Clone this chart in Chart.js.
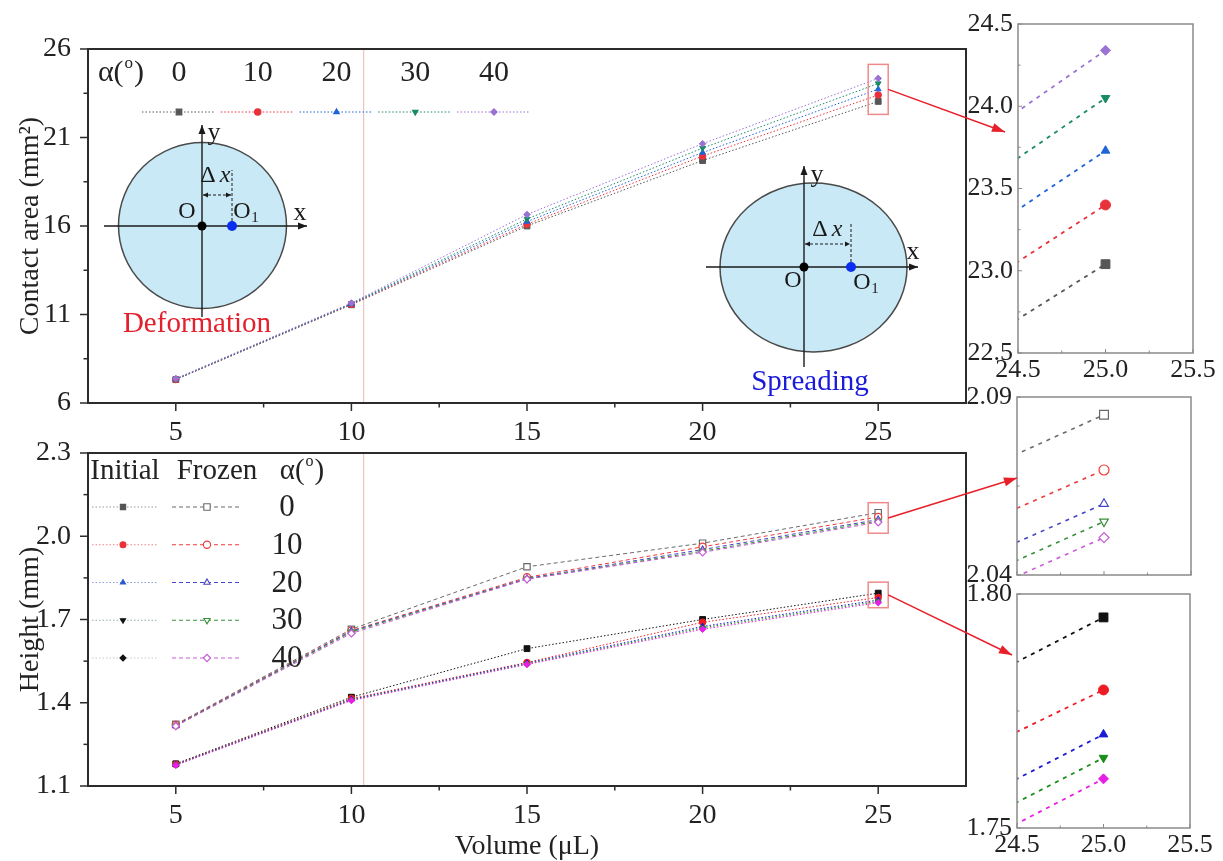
<!DOCTYPE html>
<html lang="en">
<head>
<meta charset="UTF-8" />
<title>Contact area and height vs droplet volume</title>
<script src="https://cdn.jsdelivr.net/npm/chart.js@4.4.1/dist/chart.umd.min.js"></script>
<style>
  body { margin: 0; background: #fff; }
  #wrap { position: relative; width: 1223px; height: 861px; }
  #wrap canvas { position: absolute; left: 0; top: 0; }
</style>
</head>
<body>
<div id="wrap">
  <canvas id="area" width="1223" height="861"></canvas>
  <canvas id="height" width="1223" height="861"></canvas>
  <canvas id="areaZoom" width="1223" height="861"></canvas>
  <canvas id="frozenZoom" width="1223" height="861"></canvas>
  <canvas id="initialZoom" width="1223" height="861"></canvas>
  <canvas id="callouts" width="1223" height="861"></canvas>
</div>
<script>
const W = 1223, H = 861
const serif = '"Liberation Serif", "Times New Roman", serif'
Chart.defaults.font.family = serif
Chart.defaults.color = '#222'

// ---- data ----
const volumes = [5, 10, 15, 20, 25]
const angles = [0, 10, 20, 30, 40]

// contact area (mm²) per tilt angle
const area0 = [7.32, 11.55, 16.0, 19.7, 23.04]
const area10 = [7.33, 11.58, 16.1, 19.95, 23.4]
const area20 = [7.35, 11.6, 16.25, 20.15, 23.73]
const area30 = [7.36, 11.62, 16.4, 20.4, 24.05]
const area40 = [7.38, 11.65, 16.65, 20.65, 24.34]

// height (mm) right after deposition
const initial0 = [1.18, 1.42, 1.595, 1.7, 1.795]
const initial10 = [1.178, 1.415, 1.545, 1.69, 1.7795]
const initial20 = [1.177, 1.412, 1.543, 1.675, 1.77]
const initial30 = [1.176, 1.41, 1.54, 1.67, 1.765]
const initial40 = [1.175, 1.408, 1.538, 1.665, 1.7605]

// height (mm) once frozen
const frozen0 = [1.322, 1.665, 1.89, 1.975, 2.085]
const frozen10 = [1.32, 1.66, 1.852, 1.962, 2.0695]
const frozen20 = [1.318, 1.658, 1.848, 1.952, 2.06]
const frozen30 = [1.317, 1.655, 1.846, 1.946, 2.055]
const frozen40 = [1.316, 1.65, 1.845, 1.942, 2.0505]

const volumeTicks = [5, 10, 15, 20, 25]
const areaTicks = [6, 11, 16, 21, 26]
const heightTicks = [1.1, 1.4, 1.7, 2.0, 2.3]
const zoomVolumeTicks = [24.5, 25.0, 25.5]
const zoomAreaTicks = [22.5, 23.0, 23.5, 24.0, 24.5]
const zoomFrozenTicks = [2.04, 2.09]
const zoomInitialTicks = [1.75, 1.8]
const dividerVolume = 10.35

const areaSeries = [area0, area10, area20, area30, area40]
const initialSeries = [initial0, initial10, initial20, initial30, initial40]
const frozenSeries = [frozen0, frozen10, frozen20, frozen30, frozen40]

// ---- styles ----
const areaColors = ['#565656', '#e8323a', '#1f63d8', '#198a66', '#9a72d6']
const initialColors = ['#111111', '#ee1c24', '#1a1ad6', '#1b8c1b', '#e61ee6']
const frozenColors = ['#6a6a6a', '#ee3a3a', '#4646c8', '#3a8f3a', '#c85ad8']
const initialKeyColors = ['#555555', '#e8323a', '#2a5ad0', '#111111', '#111111']
const initialKeyLines = ['#9a9a9a', '#f08080', '#8aa0e0', '#8fb0a0', '#c8c8c8']
const shapes = ['rect', 'circle', 'triangle', 'triangle', 'rectRot']
const turns = [0, 0, 0, 180, 0]
const dotted = [1.5, 2]
const dashed = [4, 3]

function series(values, i, colors, look) {
  const r = shapes[i] === 'rect' ? look.radius * 1.25 : look.radius
  return {
    data: volumes.map((v, k) => ({ x: v, y: values[k] })),
    borderColor: colors[i],
    borderWidth: look.lineWidth,
    borderDash: look.dash,
    tension: 0,
    pointStyle: shapes[i],
    pointRotation: turns[i],
    pointRadius: r,
    pointBorderWidth: look.open ? 1.2 : 1,
    pointBorderColor: colors[i],
    pointBackgroundColor: look.open ? '#ffffff' : colors[i],
    order: 4 - i,
  }
}

function axis(o) {
  return {
    type: 'linear',
    min: o.min,
    max: o.max,
    afterBuildTicks: s => { s.ticks = o.ticks.map(v => ({ value: v })) },
    afterFit: s => { if (s.isHorizontal()) s.height = o.size; else s.width = o.size },
    grid: { display: false, drawTicks: false },
    border: { display: false },
    ticks: {
      autoSkip: false, maxRotation: 0, padding: o.pad, color: '#222',
      font: { size: o.font }, callback: o.fmt || (v => String(v)),
    },
    title: o.title
      ? { display: true, text: o.title, color: '#222', font: { size: 28, lineHeight: 1 }, padding: o.titlePad }
      : { display: false },
  }
}

function minorValues(scale) {
  const major = scale.ticks.map(t => t.value)
  if (major.length < 2) return []
  const half = (major[1] - major[0]) / 2
  const eps = (scale.max - scale.min) * 1e-6
  const out = []
  for (let k = -1; k < major.length; k++) {
    const v = major[0] + (2 * k + 1) * half
    if (v > scale.min + eps && v < scale.max - eps) out.push(v)
  }
  return out
}

// frame, tick marks and the thin red divider
const framePlugin = {
  id: 'frame',
  beforeDatasetsDraw(chart, args, o) {
    if (o.divider == null) return
    const { ctx, chartArea: a, scales: { x } } = chart
    const px = x.getPixelForValue(o.divider)
    ctx.save()
    ctx.strokeStyle = 'rgba(226,120,120,0.55)'
    ctx.lineWidth = 1
    ctx.beginPath(); ctx.moveTo(px, a.top); ctx.lineTo(px, a.bottom); ctx.stroke()
    ctx.restore()
  },
  afterDraw(chart, args, o) {
    const { ctx, chartArea: a, scales: { x, y } } = chart
    const dir = o.inward ? -1 : 1
    ctx.save()
    ctx.strokeStyle = o.color
    ctx.lineWidth = o.tickWidth
    const tick = (scale, v, len) => {
      const p = scale.getPixelForValue(v)
      ctx.beginPath()
      if (scale.isHorizontal()) { ctx.moveTo(p, a.bottom); ctx.lineTo(p, a.bottom + dir * len) }
      else { ctx.moveTo(a.left, p); ctx.lineTo(a.left - dir * len, p) }
      ctx.stroke()
    }
    for (const s of [x, y]) {
      s.ticks.forEach(t => tick(s, t.value, o.major))
      minorValues(s).forEach(v => tick(s, v, o.minor))
    }
    ctx.lineWidth = o.width
    ctx.strokeRect(a.left, a.top, a.right - a.left, a.bottom - a.top)
    ctx.restore()
  },
}

function alphaLabel(ctx, cx, cy, size) {
  const big = `${size}px ${serif}`, small = `${Math.round(size * 0.55)}px ${serif}`
  ctx.font = big
  const wa = ctx.measureText('α(').width, wb = ctx.measureText(')').width
  ctx.font = small
  const wo = ctx.measureText('o').width
  let x = cx - (wa + wo + wb) / 2
  ctx.textAlign = 'left'; ctx.textBaseline = 'middle'
  ctx.font = big; ctx.fillText('α(', x, cy); x += wa
  ctx.font = small; ctx.fillText('o', x + 1, cy - size * 0.32); x += wo + 2
  ctx.font = big; ctx.fillText(')', x, cy)
}

function keyMarker(ctx, i, x, y, r, fill, stroke) {
  ctx.setLineDash([])
  ctx.fillStyle = fill; ctx.strokeStyle = stroke; ctx.lineWidth = 1.1
  Chart.helpers.drawPoint(ctx, {
    pointStyle: shapes[i], rotation: turns[i],
    radius: shapes[i] === 'rect' ? r * 1.25 : r, borderWidth: 1.1,
  }, x, y)
}

function keyLine(ctx, x1, x2, y, color, dash, width) {
  ctx.strokeStyle = color; ctx.lineWidth = width; ctx.setLineDash(dash)
  ctx.beginPath(); ctx.moveTo(x1, y); ctx.lineTo(x2, y); ctx.stroke()
  ctx.setLineDash([])
}

// angle key across the top of the contact-area panel
const areaKey = {
  id: 'areaKey',
  afterDraw(chart) {
    const { ctx, chartArea: a } = chart
    ctx.save()
    ctx.fillStyle = '#222'
    alphaLabel(ctx, a.left + 32, a.top + 24, 30)
    ctx.font = `30px ${serif}`; ctx.textAlign = 'center'; ctx.textBaseline = 'middle'
    angles.forEach((ang, i) => {
      const cx = a.left + 91 + 78.75 * i
      ctx.fillStyle = '#222'
      ctx.fillText(String(ang), cx, a.top + 24)
      keyLine(ctx, cx - 37, cx + 35, a.top + 63, areaColors[i], dotted, 1)
      keyMarker(ctx, i, cx, a.top + 63, 3.2, areaColors[i], areaColors[i])
    })
    ctx.restore()
  },
}

// Initial / Frozen key of the height panel
const heightKey = {
  id: 'heightKey',
  afterDraw(chart) {
    const { ctx, chartArea: a } = chart
    ctx.save()
    ctx.fillStyle = '#222'
    ctx.font = `29px ${serif}`; ctx.textAlign = 'center'; ctx.textBaseline = 'middle'
    ctx.fillText('Initial', a.left + 37, a.top + 18)
    ctx.fillText('Frozen', a.left + 129, a.top + 18)
    alphaLabel(ctx, a.left + 213, a.top + 18, 29)
    angles.forEach((ang, i) => {
      const cy = a.top + 54 + 37.75 * i
      keyLine(ctx, a.left + 4, a.left + 70, cy, initialKeyLines[i], dotted, 1)
      keyMarker(ctx, i, a.left + 35, cy, 3, initialKeyColors[i], initialKeyColors[i])
      keyLine(ctx, a.left + 84, a.left + 154, cy, frozenColors[i], dashed, 1.2)
      keyMarker(ctx, i, a.left + 119, cy, 3.6, '#ffffff', frozenColors[i])
      ctx.fillStyle = '#222'
      ctx.font = `31px ${serif}`; ctx.textAlign = 'center'; ctx.textBaseline = 'middle'
      ctx.fillText(String(ang), a.left + 199, cy + 1)
    })
    ctx.restore()
  },
}

// droplet footprint sketches inside the contact-area panel
const sketches = [
  { cx: 202.5, cy: 225.5, rx: 84, ry: 83, ox: 202, oy: 226, o1x: 232,
    hAxis: [104, 307], vAxis: [317, 125], shiftY: 195, dropTop: 170,
    oAt: [187, 212], o1At: [246, 212], xAt: [300, 213], yAt: [214, 133], dxAt: [216, 176],
    caption: 'Deformation', captionAt: [197, 324], captionColor: '#e3202b' },
  { cx: 813.5, cy: 267.5, rx: 93.5, ry: 84.5, ox: 804, oy: 267, o1x: 851,
    hAxis: [706, 918], vAxis: [367, 166], shiftY: 244, dropTop: 224,
    oAt: [793, 281], o1At: [866, 283], xAt: [913, 252], yAt: [817, 175], dxAt: [828, 230],
    caption: 'Spreading', captionAt: [810, 382], captionColor: '#1a1ad8' },
]

function head(ctx, x1, y1, x2, y2, len, half) {
  const ang = Math.atan2(y2 - y1, x2 - x1)
  ctx.beginPath()
  ctx.moveTo(x2, y2)
  ctx.lineTo(x2 - len * Math.cos(ang) + half * Math.sin(ang), y2 - len * Math.sin(ang) - half * Math.cos(ang))
  ctx.lineTo(x2 - len * Math.cos(ang) - half * Math.sin(ang), y2 - len * Math.sin(ang) + half * Math.cos(ang))
  ctx.closePath()
  ctx.fill()
}

const sketchPlugin = {
  id: 'sketches',
  afterDatasetsDraw(chart) {
    const { ctx } = chart
    ctx.save()
    for (const s of sketches) {
      ctx.beginPath()
      ctx.ellipse(s.cx, s.cy, s.rx, s.ry, 0, 0, Math.PI * 2)
      ctx.fillStyle = '#c8e9f5'; ctx.fill()
      ctx.strokeStyle = '#4a4a4a'; ctx.lineWidth = 1.5; ctx.stroke()

      ctx.strokeStyle = '#1a1a1a'; ctx.fillStyle = '#1a1a1a'; ctx.lineWidth = 1.4
      ctx.beginPath(); ctx.moveTo(s.hAxis[0], s.oy); ctx.lineTo(s.hAxis[1], s.oy); ctx.stroke()
      head(ctx, s.hAxis[0], s.oy, s.hAxis[1], s.oy, 9, 3.5)
      ctx.beginPath(); ctx.moveTo(s.ox, s.vAxis[0]); ctx.lineTo(s.ox, s.vAxis[1]); ctx.stroke()
      head(ctx, s.ox, s.vAxis[0], s.ox, s.vAxis[1], 9, 3.5)

      ctx.lineWidth = 1; ctx.setLineDash([3, 2])
      ctx.beginPath(); ctx.moveTo(s.o1x, s.oy); ctx.lineTo(s.o1x, s.dropTop); ctx.stroke()
      ctx.beginPath(); ctx.moveTo(s.ox + 1, s.shiftY); ctx.lineTo(s.o1x - 1, s.shiftY); ctx.stroke()
      ctx.setLineDash([])
      head(ctx, s.o1x - 10, s.shiftY, s.ox + 1, s.shiftY, 5, 2.5)
      head(ctx, s.ox + 10, s.shiftY, s.o1x - 1, s.shiftY, 5, 2.5)

      ctx.beginPath(); ctx.arc(s.ox, s.oy, 4.5, 0, Math.PI * 2); ctx.fillStyle = '#000'; ctx.fill()
      ctx.beginPath(); ctx.arc(s.o1x, s.oy, 5, 0, Math.PI * 2); ctx.fillStyle = '#0a2ef0'; ctx.fill()

      ctx.fillStyle = '#1a1a1a'; ctx.textAlign = 'center'; ctx.textBaseline = 'middle'
      ctx.font = `24px ${serif}`
      ctx.fillText('O', s.oAt[0], s.oAt[1])
      ctx.fillText('O', s.o1At[0] - 4, s.o1At[1])
      ctx.font = `15px ${serif}`
      ctx.fillText('1', s.o1At[0] + 9, s.o1At[1] + 6)
      ctx.font = `26px ${serif}`
      ctx.fillText('x', s.xAt[0], s.xAt[1])
      ctx.fillText('y', s.yAt[0], s.yAt[1])
      ctx.font = `24px ${serif}`
      ctx.fillText('Δ', s.dxAt[0] - 8, s.dxAt[1])
      ctx.font = `italic 24px ${serif}`
      ctx.fillText('x', s.dxAt[0] + 9, s.dxAt[1])

      ctx.fillStyle = s.captionColor
      ctx.font = `29px ${serif}`
      ctx.fillText(s.caption, s.captionAt[0], s.captionAt[1])
    }
    ctx.restore()
  },
}

function makeChart(id, box, datasets, x, y, frame, extraPlugins) {
  return new Chart(document.getElementById(id), {
    type: 'line',
    data: { datasets },
    options: {
      responsive: false,
      animation: false,
      events: [],
      layout: {
        padding: { left: box.left - box.yw, top: box.top, right: W - box.right, bottom: H - box.bottom - box.xh },
      },
      scales: { x, y },
      plugins: { legend: { display: false }, tooltip: { enabled: false }, frame },
    },
    plugins: [framePlugin, ...extraPlugins],
  })
}

const mainFrame = { color: '#2b2b2b', width: 2, tickWidth: 1.5, major: 8, minor: 4.5, inward: false, divider: dividerVolume }
const zoomFrame = { color: '#8a8a8a', width: 1.5, tickWidth: 1, major: 4, minor: 2.5, inward: true, divider: null }

const mainLook = { lineWidth: 1, dash: dotted, radius: 3.3, open: false }
const mainOpenLook = { lineWidth: 1, dash: dashed, radius: 3.6, open: true }
const zoomLook = { lineWidth: 1.8, dash: [4, 5], radius: 5, open: false }
const zoomOpenLook = { lineWidth: 1.6, dash: [4, 5], radius: 5, open: true }

const volumeAxis = (xh, title) => axis({
  min: 2.5, max: 27.5, ticks: volumeTicks, size: xh, pad: 13, font: 28,
  title, titlePad: { top: 0, bottom: 0 },
})
const zoomVolumeAxis = (labels) => axis({
  min: 24.5, max: 25.5, ticks: zoomVolumeTicks, size: labels ? 30 : 8, pad: 2, font: 26,
  fmt: v => (labels ? v.toFixed(1) : ''),
})

const areaChart = makeChart('area',
  { left: 88, top: 49, right: 966, bottom: 403, yw: 88, xh: 40 },
  areaSeries.map((s, i) => series(s, i, areaColors, mainLook)),
  volumeAxis(40),
  axis({ min: 6, max: 26, ticks: areaTicks, size: 88, pad: 17, font: 28,
    title: 'Contact area (mm²)', titlePad: { top: 17, bottom: 0 } }),
  mainFrame, [areaKey, sketchPlugin])

const heightChart = makeChart('height',
  { left: 88, top: 453, right: 966, bottom: 786, yw: 88, xh: 75 },
  [
    ...frozenSeries.map((s, i) => series(s, i, frozenColors, mainOpenLook)),
    ...initialSeries.map((s, i) => series(s, i, initialColors, mainLook)),
  ],
  volumeAxis(75, 'Volume (μL)'),
  axis({ min: 1.1, max: 2.3, ticks: heightTicks, size: 88, pad: 17, font: 28, fmt: v => v.toFixed(1),
    title: 'Height (mm)', titlePad: { top: 17, bottom: 0 } }),
  mainFrame, [heightKey])

const areaZoom = makeChart('areaZoom',
  { left: 1018, top: 24, right: 1193, bottom: 353, yw: 60, xh: 30 },
  areaSeries.map((s, i) => series(s, i, areaColors, zoomLook)),
  zoomVolumeAxis(true),
  axis({ min: 22.5, max: 24.5, ticks: zoomAreaTicks, size: 60, pad: 5, font: 26, fmt: v => v.toFixed(1) }),
  zoomFrame, [])

const frozenZoom = makeChart('frozenZoom',
  { left: 1017, top: 397, right: 1191, bottom: 575, yw: 60, xh: 8 },
  frozenSeries.map((s, i) => series(s, i, frozenColors, zoomOpenLook)),
  zoomVolumeAxis(false),
  axis({ min: 2.04, max: 2.09, ticks: zoomFrozenTicks, size: 60, pad: 5, font: 26, fmt: v => v.toFixed(2) }),
  zoomFrame, [])

const initialZoom = makeChart('initialZoom',
  { left: 1017, top: 594, right: 1190, bottom: 828, yw: 60, xh: 30 },
  initialSeries.map((s, i) => series(s, i, initialColors, zoomLook)),
  zoomVolumeAxis(true),
  axis({ min: 1.75, max: 1.8, ticks: zoomInitialTicks, size: 60, pad: 5, font: 26, fmt: v => v.toFixed(2) }),
  zoomFrame, [])

// boxes around the 25 μL points and arrows to the enlarged panels
function drawCallouts() {
  const ctx = document.getElementById('callouts').getContext('2d')
  const last = list => list.map(s => s[s.length - 1])
  const callouts = [
    { chart: areaChart, values: last(areaSeries), above: 14, below: 13, zoom: areaZoom, dx: -13, dy: 108 },
    { chart: heightChart, values: last(frozenSeries), above: 10, below: 11, zoom: frozenZoom, dx: 0, dy: 81 },
    { chart: heightChart, values: last(initialSeries), above: 11, below: 5, zoom: initialZoom, dx: -5, dy: 61 },
  ]
  ctx.save()
  for (const c of callouts) {
    const { x, y } = c.chart.scales
    const px = x.getPixelForValue(volumes[volumes.length - 1])
    const top = y.getPixelForValue(Math.max(...c.values)) - c.above
    const bottom = y.getPixelForValue(Math.min(...c.values)) + c.below
    ctx.strokeStyle = '#f08a8a'; ctx.lineWidth = 1.5
    ctx.strokeRect(px - 10, top, 20, bottom - top)
    const sx = px + 10, sy = (top + bottom) / 2
    const ex = c.zoom.chartArea.left + c.dx, ey = c.zoom.chartArea.top + c.dy
    ctx.strokeStyle = '#e8202a'; ctx.fillStyle = '#e8202a'; ctx.lineWidth = 1.5
    ctx.beginPath(); ctx.moveTo(sx, sy); ctx.lineTo(ex, ey); ctx.stroke()
    head(ctx, sx, sy, ex, ey, 13, 4.5)
  }
  ctx.restore()
}
drawCallouts()
</script>
</body>
</html>
